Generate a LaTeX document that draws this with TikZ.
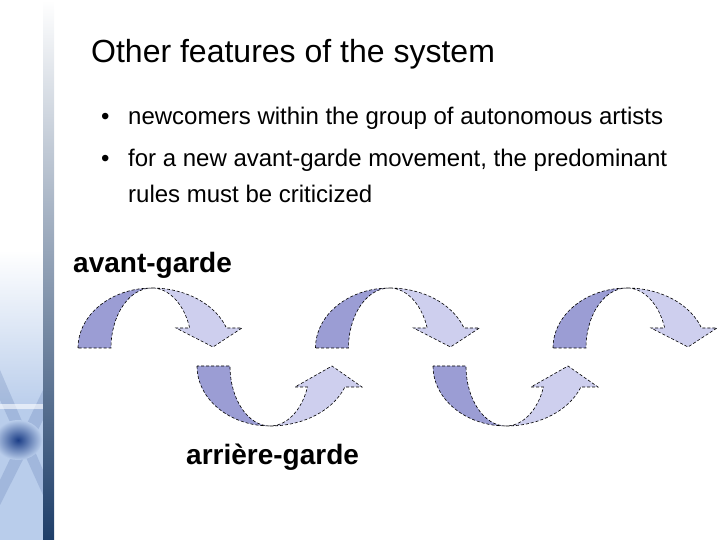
\documentclass[tikz,border=0pt]{standalone}
\usepackage{fontspec}
\setmainfont{Liberation Sans}
\usetikzlibrary{positioning}
\definecolor{arrdark}{RGB}{155,157,212}
\definecolor{arrlight}{RGB}{206,207,238}
\definecolor{barnavy}{RGB}{30,62,105}
\definecolor{barsteel}{RGB}{125,148,178}
\definecolor{cloudblue}{RGB}{185,205,235}
\definecolor{blobblue}{RGB}{28,62,135}
\tikzset{
  shapeline/.style={draw=black, line width=0.6pt, dash pattern=on 3pt off 2pt},
  titletxt/.style={anchor=base west, inner sep=0pt, font=\fontsize{32}{38}\selectfont},
  bullettxt/.style={anchor=base west, inner sep=0pt, font=\fontsize{24}{29}\selectfont},
  gardetxt/.style={anchor=base west, inner sep=0pt, font=\fontsize{28}{34}\selectfont\bfseries},
  overarrow/.pic={
    \path[fill=arrdark, shapeline] (-74,0)
      arc[start angle=180, end angle=90, x radius=74, y radius=60]
      arc[start angle=90, end angle=180, x radius=41, y radius=60] -- cycle;
    \path[fill=arrlight, shapeline] (0,60)
      arc[start angle=90, end angle=19.47, x radius=79, y radius=60]
      -- (90,20) -- (61,1) -- (24,20) -- (37.7,20)
      arc[start angle=19.47, end angle=90, x radius=40, y radius=60] -- cycle;
  },
  underarrow/.pic={
    \path[fill=arrdark, shapeline] (-73,0)
      arc[start angle=180, end angle=270, x radius=73, y radius=60]
      arc[start angle=270, end angle=180, x radius=40, y radius=60] -- cycle;
    \path[fill=arrlight, shapeline] (0,-60)
      arc[start angle=270, end angle=339.5, x radius=80, y radius=60]
      -- (92,-21) -- (62,0) -- (25,-21) -- (37.5,-21)
      arc[start angle=339.5, end angle=270, x radius=40, y radius=60] -- cycle;
  },
}

\begin{document}
\begin{tikzpicture}[x=1pt, y=1pt]
  \useasboundingbox (0,0) rectangle (720,540);

  % side decoration
  \shade[top color=white, bottom color=cloudblue] (0,290) rectangle (43,130);
  \fill[cloudblue] (0,130) rectangle (43,0);
  \fill[blobblue, opacity=0.15] (0,170) -- (43,70) -- (43,45) -- (0,140) -- cycle;
  \fill[blobblue, opacity=0.15] (0,60) -- (43,150) -- (43,120) -- (0,35) -- cycle;
  \fill[white, opacity=0.6] (0,131) rectangle (43,136);
  \shade[inner color=blobblue, outer color=cloudblue] (18,100) ellipse (24 and 20);
  \shade[top color=white, middle color=barsteel, bottom color=barnavy] (43,540) rectangle (54,0);

  % text
  \node[titletxt] (title) at (91,477) {Other features of the system};
  \node[bullettxt] (b1) at (101,415) {\textbullet};
  \node[bullettxt] (t1) at (128,415) {newcomers within the group of autonomous artists};
  \node[bullettxt] (b2) at (101,373) {\textbullet};
  \node[bullettxt] (t2) at (128,373) {for a new avant-garde movement, the predominant};
  \node[bullettxt] (t3) at (128,337) {rules must be criticized};
  \node[gardetxt] (avant) at (73,267) {avant-garde};
  \node[gardetxt] (arriere) at (186,75) {arrière-garde};

  % arrows
  \pic (a1) at (152,192) {overarrow};
  \pic (a2) at (270,174) {underarrow};
  \pic (a3) at (389.5,192) {overarrow};
  \pic (a4) at (506,174) {underarrow};
  \pic (a5) at (627,192) {overarrow};
\end{tikzpicture}
\end{document}
